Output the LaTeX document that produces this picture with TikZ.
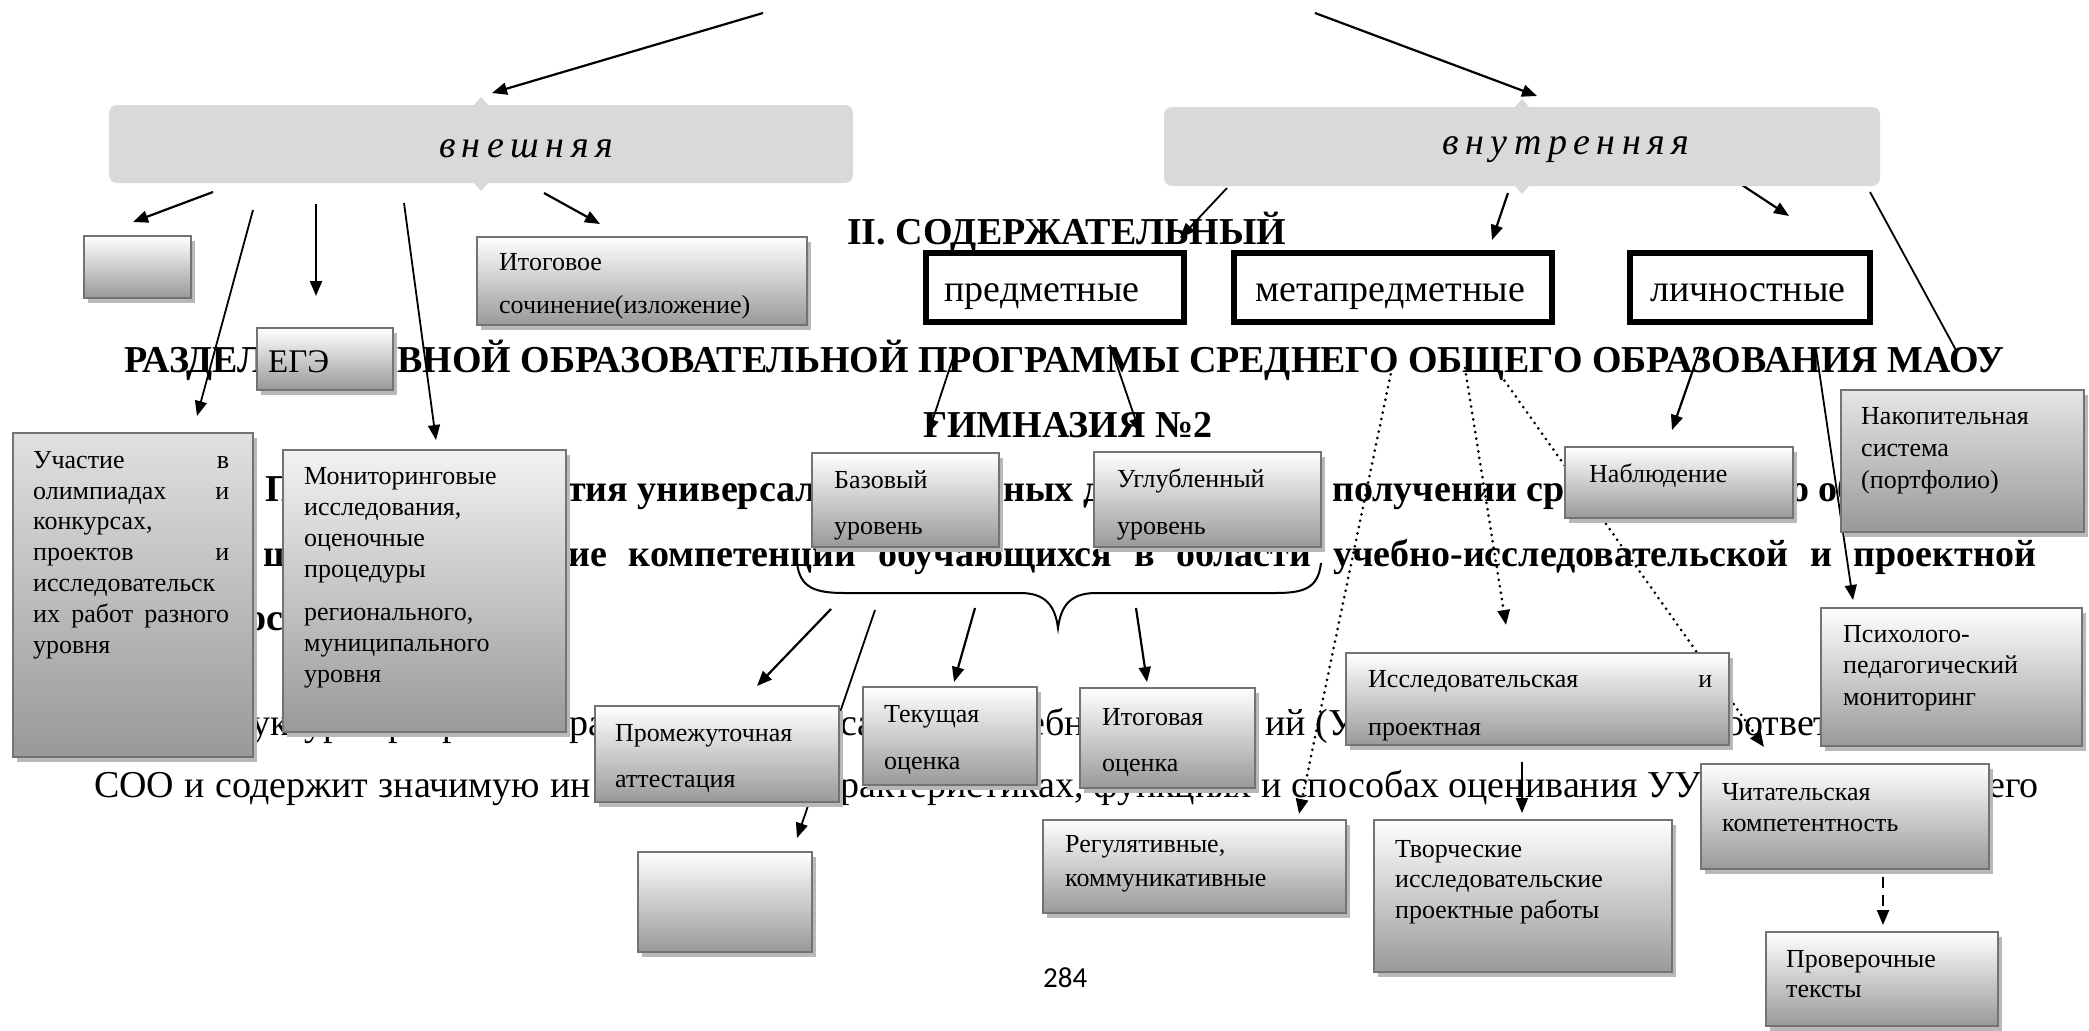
\documentclass[tikz,border=0pt]{standalone}
\usepackage{fontspec}
\usepackage{graphicx}
\setmainfont{Liberation Serif}
\newfontfamily\calfont{Carlito}
\newfontfamily\spacedit[LetterSpace=17]{Liberation Serif}
\usetikzlibrary{shadows,arrows.meta,fit}
\newcommand{\topln}{\rule{0pt}{20pt}}
\begin{document}
\begin{tikzpicture}[x=1pt,y=-1pt,
  gbx/.style={draw=black!55, line width=2.2pt, top color=white, bottom color=black!40,
    drop shadow={shadow xshift=4pt,shadow yshift=-5pt,fill=black!28,opacity=1}, inner sep=0pt},
  tbx/.style={draw=black, line width=6pt, fill=white, inner sep=0pt,
    drop shadow={shadow xshift=3pt,shadow yshift=-3pt,fill=black!30,opacity=1}},
  rbx/.style={fill=black!15, rounded corners=8pt, inner sep=0pt},
  lbl/.style={font=\fontsize{26}{31}\selectfont, inner sep=0pt, align=left, anchor=north west},
  bgb/.style={font=\fontsize{38}{40}\selectfont\bfseries, inner sep=0pt, anchor=base west},
  bgr/.style={font=\fontsize{38}{40}\selectfont, inner sep=0pt, anchor=base west},
  big/.style={font=\fontsize{38}{38}\selectfont, inner sep=0pt, anchor=base},
  ital/.style={font=\spacedit\itshape\fontsize{38}{38}\selectfont, inner sep=0pt},
  arr/.style={-{Triangle[length=15pt,width=12pt]}, line width=2.2pt},
  thinarr/.style={arr, line width=1.8pt},
  dotarr/.style={-{Triangle[length=15pt,width=12pt]}, line width=3pt, dash pattern=on 0pt off 6.5pt, line cap=round},
  dasharr/.style={-{Triangle[length=15pt,width=12pt]}, line width=2.2pt, dash pattern=on 11pt off 7pt}
]
\useasboundingbox (0,0) rectangle (2089,1031);
\fill[white] (0,0) rectangle (2089,1031);

% ---------- background page text ----------
\node[bgb] (h2) at (847,244) {II. СОДЕРЖАТЕЛЬНЫЙ};
\node[bgb] (hr1) at (124,372) {РАЗДЕЛ};
\node[bgb] (hr2) at (397,372) {\resizebox{1607pt}{\height}{ВНОЙ ОБРАЗОВАТЕЛЬНОЙ ПРОГРАММЫ СРЕДНЕГО ОБЩЕГО ОБРАЗОВАНИЯ МАОУ}};
\node[bgb] (hg) at (923,437) {ГИМНАЗИЯ №2};
\node[bgb] (la1) at (265,501) {П};
\node[bgb] (la2) at (567,501) {тия универсал};
\node[bgb] (la3) at (1003,501) {ных д};
\node[bgb] (la4) at (1332,501) {получении сре};
\node[bgb] (la5) at (1790,501) {о об};
\node[bgb] (lb1) at (263,566) {щ};
\node[bgb] (lb2) at (568,566) {\makebox[1468pt][s]{ие компетенции обучающихся в области учебно-исследовательской и проектной}};
\node[bgb] (lc1) at (247,630) {ос};
\node[bgr] (ld1) at (251,735) {уктура программы};
\node[bgr] (ld2) at (569,735) {ра};
\node[bgr] (ld3) at (840,735) {са};
\node[bgr] (ld4) at (1028,735) {ебн};
\node[bgr] (ld5) at (1265,735) {ий (У};
\node[bgr] (ld6) at (1725,735) {оответ};
\node[bgr] (le1) at (94,797) {\makebox[497pt][s]{СОО и содержит значимую ин}};
\node[bgr] (le2) at (840,797) {\makebox[861pt][s]{рактеристиках, функциях и способах оценивания УУ}};
\node[bgr] (le3) at (1988,797) {его};
\node[font=\calfont\fontsize{29}{29}\selectfont, inner sep=0pt, anchor=base west] (pg) at (1043,987) {284};

% ---------- connector end points ----------
\coordinate (c1s) at (763,13);   \coordinate (c1e) at (492,93);
\coordinate (c2s) at (1315,13);  \coordinate (c2e) at (1537,96);
\coordinate (a1s) at (213,192);  \coordinate (a1e) at (133,222);
\coordinate (a2s) at (253,210);  \coordinate (a2e) at (197,416);
\coordinate (a3s) at (316,204);  \coordinate (a3e) at (316,296);
\coordinate (a4s) at (404,203);  \coordinate (a4e) at (436,440);
\coordinate (a5s) at (544,193);  \coordinate (a5e) at (600,224);
\coordinate (b1s) at (1227,188); \coordinate (b1e) at (1180,238);
\coordinate (b2s) at (1508,193); \coordinate (b2e) at (1492,240);
\coordinate (b3s) at (1742,185); \coordinate (b3e) at (1789,216);
\coordinate (b4s) at (1870,192); \coordinate (b4e) at (1957,352);
\coordinate (p1s) at (955,352);  \coordinate (p1e) at (928,434);
\coordinate (p2s) at (1110,345); \coordinate (p2e) at (1140,433);
\coordinate (d1s) at (1392,368); \coordinate (d1e) at (1299,814);
\coordinate (d2s) at (1465,368); \coordinate (d2e) at (1506,625);
\coordinate (d3s) at (1497,370); \coordinate (d3e) at (1764,747);
\coordinate (l1s) at (1701,347); \coordinate (l1e) at (1672,430);
\coordinate (l2s) at (1816,350); \coordinate (l2e) at (1853,600);
\coordinate (e1s) at (831,609);  \coordinate (e1e) at (757,686);
\coordinate (e2s) at (875,610);  \coordinate (e2e) at (797,838);
\coordinate (e3s) at (975,608);  \coordinate (e3e) at (954,682);
\coordinate (e4s) at (1136,608); \coordinate (e4e) at (1147,682);
\coordinate (f1s) at (1522,762); \coordinate (f1e) at (1522,813);
\coordinate (f2s) at (1883,877); \coordinate (f2e) at (1883,925);

% ---------- connectors ----------
\draw[arr] (c1s) -- (c1e);
\draw[arr] (c2s) -- (c2e);
\draw[arr] (a1s) -- (a1e);
\draw[thinarr] (a2s) -- (a2e);
\draw[arr] (a3s) -- (a3e);
\draw[thinarr] (a4s) -- (a4e);
\draw[arr] (a5s) -- (a5e);
\draw[thinarr] (b1s) -- (b1e);
\draw[arr] (b2s) -- (b2e);
\draw[arr] (b3s) -- (b3e);
\draw[line width=1.8pt] (b4s) -- (b4e);
\draw[thinarr] (p1s) -- (p1e);
\draw[thinarr] (p2s) -- (p2e);
\draw[dotarr] (d1s) -- (d1e);
\draw[dotarr] (d2s) -- (d2e);
\draw[dotarr] (d3s) -- (d3e);
\draw[arr] (l1s) -- (l1e);
\draw[thinarr] (l2s) -- (l2e);
\draw[arr] (e1s) -- (e1e);
\draw[thinarr] (e2s) -- (e2e);
\draw[arr] (e3s) -- (e3e);
\draw[arr] (e4s) -- (e4e);
\draw[thinarr] (f1s) -- (f1e);
\draw[dasharr] (f2s) -- (f2e);

% brace under the level boxes
\draw[line width=2pt] (797,563) .. controls (800,588) and (815,593) .. (845,593)
  -- (1020,593) .. controls (1045,593) and (1055,605) .. (1058,628)
  .. controls (1061,605) and (1071,593) .. (1096,593)
  -- (1275,593) .. controls (1305,593) and (1318,588) .. (1321,563);

% ---------- rounded header boxes ----------
\node[rbx, fit={(109,105) (853,183)}] (vnesh) {};
\fill[black!15] (473,106) -- (481,97) -- (489,106) -- cycle;
\fill[black!15] (473,182) -- (481,191) -- (489,182) -- cycle;
\node[ital] (vneshT) at (526,149) {внешняя};
\node[rbx, fit={(1164,107) (1880,186)}] (vnutr) {};
\fill[black!15] (1514,108) -- (1522,99) -- (1530,108) -- cycle;
\fill[black!15] (1514,185) -- (1522,194) -- (1530,185) -- cycle;
\node[ital] (vnutrT) at (1566,150) {внутренняя};

% ---------- thick boxes ----------
\node[tbx, fit={(926,253) (1184,322)}] (pred) {};
\node[big] (predT) at (1042,301) {предметные};
\node[tbx, fit={(1234,253) (1552,322)}] (meta) {};
\node[big] (metaT) at (1390,301) {метапредметные};
\node[tbx, fit={(1630,253) (1870,322)}] (lich) {};
\node[big] (lichT) at (1748,301) {личностные};

% ---------- gradient boxes ----------
\node[gbx, fit={(84,236) (191,298)}] (emp1) {};
\node[gbx, fit={(257,328) (393,390)}] (ege) {};
\node[font=\fontsize{33}{33}\selectfont, inner sep=0pt, anchor=base west] (egeT) at (268,372) {ЕГЭ};
\node[gbx, fit={(477,237) (807,325)}] (itsoch) {};
\node[lbl, font=\fontsize{26}{43}\selectfont] (itsochT) at (499,250) {\topln Итоговое\\сочинение(изложение)};
\node[gbx, top color=black!12, fit={(13,433) (253,757)}] (uch) {};
\node[lbl, font=\fontsize{26}{30.8}\selectfont] (uchT) at (33,448) {\topln\makebox[196pt][s]{Участие в}\\\makebox[196pt][s]{олимпиадах и}\\конкурсах,\\\makebox[196pt][s]{проектов и}\\исследовательск\\\makebox[196pt][s]{их работ разного}\\уровня};
\node[gbx, top color=black!5, fit={(283,450) (566,732)}] (mon) {};
\node[lbl, font=\fontsize{26}{31}\selectfont] (monT) at (304,464) {\topln Мониторинговые\\исследования,\\оценочные\\процедуры\\[12pt]регионального,\\муниципального\\уровня};
\node[gbx, fit={(812,453) (999,547)}] (baz) {};
\node[lbl, font=\fontsize{26}{46}\selectfont] (bazT) at (834,468) {\topln Базовый\\уровень};
\node[gbx, fit={(1094,452) (1321,547)}] (ugl) {};
\node[lbl, font=\fontsize{26}{47}\selectfont] (uglT) at (1117,467) {\topln Углубленный\\уровень};
\node[gbx, fit={(1565,447) (1793,518)}] (nabl) {};
\node[lbl] (nablT) at (1589,462) {\topln Наблюдение};
\node[gbx, top color=black!10, fit={(1841,390) (2084,532)}] (nak) {};
\node[lbl, font=\fontsize{26}{32}\selectfont] (nakT) at (1861,404) {\topln Накопительная\\система\\(портфолио)};
\node[gbx, fit={(1821,608) (2082,746)}] (psy) {};
\node[lbl, font=\fontsize{26}{31.5}\selectfont] (psyT) at (1843,622) {\topln Психолого-\\педагогический\\мониторинг};
\node[gbx, fit={(1346,653) (1729,745)}] (issl) {};
\node[lbl, font=\fontsize{26}{48}\selectfont] (isslT) at (1368,667) {\topln\makebox[344pt][s]{Исследовательская и}\\проектная};
\node[gbx, fit={(595,706) (839,802)}] (prom) {};
\node[lbl, font=\fontsize{26}{46}\selectfont] (promT) at (615,721) {\topln Промежуточная\\аттестация};
\node[gbx, fit={(863,687) (1037,785)}] (tek) {};
\node[lbl, font=\fontsize{26}{47}\selectfont] (tekT) at (884,702) {\topln Текущая\\оценка};
\node[gbx, fit={(1080,688) (1255,788)}] (itog) {};
\node[lbl, font=\fontsize{26}{46}\selectfont] (itogT) at (1102,705) {\topln Итоговая\\оценка};
\node[gbx, fit={(638,852) (812,952)}] (emp2) {};
\node[gbx, fit={(1043,820) (1346,913)}] (reg) {};
\node[lbl, font=\fontsize{26}{34}\selectfont] (regT) at (1065,832) {\topln Регулятивные,\\коммуникативные};
\node[gbx, fit={(1374,820) (1672,972)}] (tvor) {};
\node[lbl, font=\fontsize{26}{30.5}\selectfont] (tvorT) at (1395,837) {\topln Творческие\\исследовательские\\проектные работы};
\node[gbx, fit={(1701,764) (1989,869)}] (chit) {};
\node[lbl, font=\fontsize{26}{31}\selectfont] (chitT) at (1722,780) {\topln Читательская\\компетентность};
\node[gbx, fit={(1766,932) (1998,1026)}] (prov) {};
\node[lbl, font=\fontsize{26}{30}\selectfont] (provT) at (1786,947) {\topln Проверочные\\тексты};
\end{tikzpicture}
\end{document}
